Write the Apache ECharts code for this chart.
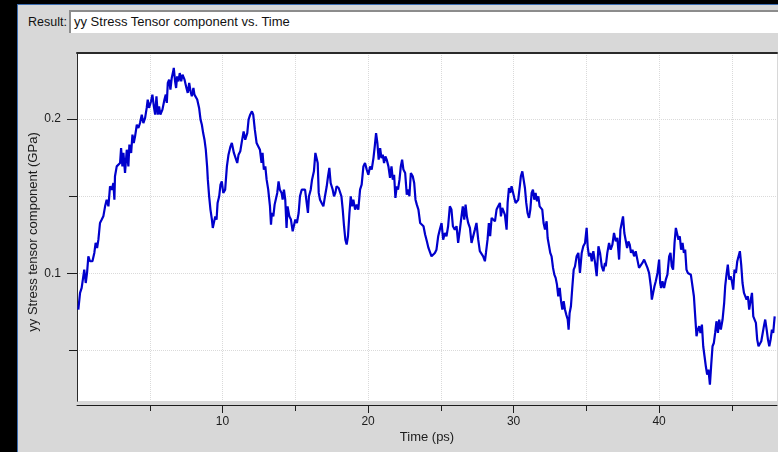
<!DOCTYPE html>
<html>
<head>
<meta charset="utf-8">
<title>yy Stress Tensor component vs. Time</title>
<script src="https://cdn.jsdelivr.net/npm/echarts@6/dist/echarts.min.js"></script>
<style>
  html, body { margin: 0; padding: 0; }
  body {
    position: relative; width: 778px; height: 452px; overflow: hidden;
    background: #d8d8d8; font-family: "Liberation Sans", Arial, sans-serif; color: #111;
  }
  .edge-top { position: absolute; left: 0; top: 0; width: 778px; height: 4px; background: #000; }
  .edge-top-hl { position: absolute; left: 0; top: 4px; width: 778px; height: 1px; background: #3b6cb0; }
  .edge-left { position: absolute; left: 0; top: 0; width: 17px; height: 452px; background: #000; }
  .edge-left-hl { position: absolute; left: 17px; top: 4px; width: 1px; height: 448px; background: #3b6cb0; }
  .result-label { position: absolute; left: 28px; top: 15px; font-size: 12.5px; line-height: 15px; }
  .result-field {
    position: absolute; left: 69px; top: 10px; width: 720px; height: 23px; box-sizing: border-box;
    background: #fff; border-top: 2px solid #8c8c8c; border-left: 2px solid #8c8c8c;
    font-size: 13px; line-height: 20px; padding-left: 3px; white-space: nowrap;
  }
  #chart { position: absolute; left: 0; top: 0; width: 778px; height: 452px; }
</style>
</head>
<body>
<div class="edge-top"></div>
<div class="edge-top-hl"></div>
<div class="edge-left"></div>
<div class="edge-left-hl"></div>
<div class="result-label">Result:</div>
<div class="result-field">yy Stress Tensor component vs. Time</div>
<div id="chart"></div>
<script>
// Time (ps) / yy stress (GPa) samples, one list per stretch of the run
const run0to12 = [
  [0.09,0.0765],[0.21,0.0873],[0.32,0.0905],[0.44,0.0916],[0.50,0.1024],[0.60,0.0937],[0.69,0.1002],[0.78,0.1110],
  [0.89,0.1078],[1.06,0.1078],[1.19,0.1132],[1.28,0.1197],[1.38,0.1164],[1.47,0.1218],[1.58,0.1326],[1.70,0.1348],
  [1.81,0.1369],[1.93,0.1434],[2.04,0.1477],[2.16,0.1434],[2.27,0.1564],[2.39,0.1542],[2.50,0.1585],[2.57,0.1477],
  [2.61,0.1629],[2.73,0.1693],[2.84,0.1704],[2.96,0.1715],[3.03,0.1812],[3.12,0.1693],[3.19,0.1780],[3.30,0.1650],
  [3.42,0.1801],[3.53,0.1693],[3.60,0.1834],[3.72,0.1780],[3.81,0.1899],[3.90,0.1845],[3.99,0.1888],[4.11,0.1963],
  [4.22,0.1942],[4.33,0.1974],[4.45,0.2028],[4.56,0.1974],[4.68,0.2007],[4.79,0.2072],[4.86,0.2126],[4.95,0.2072],
  [5.09,0.2115],[5.18,0.2158],[5.28,0.2082],[5.37,0.2028],[5.46,0.2147],[5.55,0.2028],[5.64,0.2082],[5.73,0.2028],
  [5.87,0.2061],[6.01,0.2126],[6.10,0.2158],[6.17,0.2104],[6.24,0.2234],[6.33,0.2255],[6.42,0.2190],[6.51,0.2266],
  [6.61,0.2309],[6.65,0.2331],[6.74,0.2244],[6.81,0.2201],[6.88,0.2277],[6.97,0.2244],[7.06,0.2298],[7.16,0.2244],
  [7.25,0.2288],[7.39,0.2255],[7.52,0.2201],[7.61,0.2169],[7.71,0.2234],[7.80,0.2180],[7.89,0.2147],[8.00,0.2201],
  [8.07,0.2158],[8.17,0.2147],[8.26,0.2126],[8.39,0.2072],[8.49,0.1996],[8.58,0.1963],[8.67,0.1909],[8.76,0.1866],
  [8.85,0.1801],[8.94,0.1693],[8.99,0.1607],[9.08,0.1499],[9.17,0.1413],[9.27,0.1348],[9.33,0.1294],[9.43,0.1305],
  [9.50,0.1369],[9.59,0.1348],[9.66,0.1456],[9.77,0.1499],[9.86,0.1575],[9.95,0.1596],[10.05,0.1521],[10.18,0.1542],
  [10.30,0.1693],[10.41,0.1769],[10.55,0.1823],[10.64,0.1845],[10.78,0.1780],[10.87,0.1791],[11.01,0.1715],[11.10,0.1769],
  [11.22,0.1791],[11.33,0.1855],[11.45,0.1920],[11.56,0.1866],[11.70,0.1909],[11.79,0.1996],[11.90,0.2028],[12.02,0.2050]
];
const run12to24 = [
  [12.11,0.2028],[12.22,0.1931],[12.34,0.1845],[12.45,0.1855],[12.57,0.1801],[12.68,0.1715],[12.75,0.1780],[12.84,0.1672],
  [12.94,0.1693],[13.03,0.1607],[13.14,0.1542],[13.26,0.1434],[13.33,0.1315],[13.39,0.1391],[13.49,0.1369],[13.58,0.1445],
  [13.67,0.1434],[13.76,0.1521],[13.85,0.1596],[13.94,0.1542],[14.06,0.1521],[14.13,0.1477],[14.22,0.1542],[14.31,0.1477],
  [14.40,0.1294],[14.47,0.1434],[14.59,0.1369],[14.70,0.1348],[14.82,0.1272],[14.91,0.1283],[15.00,0.1348],[15.11,0.1326],
  [15.23,0.1391],[15.32,0.1499],[15.44,0.1542],[15.55,0.1553],[15.67,0.1542],[15.78,0.1553],[15.87,0.1391],[15.94,0.1499],
  [16.06,0.1542],[16.15,0.1607],[16.28,0.1661],[16.38,0.1780],[16.47,0.1791],[16.54,0.1715],[16.61,0.1521],[16.70,0.1477],
  [16.81,0.1456],[16.93,0.1434],[17.04,0.1499],[17.16,0.1564],[17.25,0.1629],[17.34,0.1683],[17.43,0.1585],[17.57,0.1542],
  [17.66,0.1499],[17.75,0.1521],[17.84,0.1564],[17.98,0.1553],[18.07,0.1542],[18.17,0.1499],[18.26,0.1413],[18.35,0.1305],
  [18.44,0.1218],[18.53,0.1186],[18.62,0.1240],[18.72,0.1391],[18.81,0.1499],[18.90,0.1434],[18.99,0.1477],[19.11,0.1413],
  [19.22,0.1445],[19.33,0.1413],[19.45,0.1542],[19.56,0.1575],[19.68,0.1693],[19.79,0.1715],[19.91,0.1672],[20.02,0.1639],
  [20.14,0.1693],[20.25,0.1672],[20.37,0.1747],[20.46,0.1823],[20.55,0.1909],[20.64,0.1845],[20.73,0.1737],[20.83,0.1812],
  [20.92,0.1747],[21.01,0.1769],[21.10,0.1715],[21.19,0.1758],[21.28,0.1737],[21.40,0.1693],[21.51,0.1618],[21.61,0.1693],
  [21.70,0.1607],[21.79,0.1639],[21.88,0.1488],[21.97,0.1564],[22.06,0.1542],[22.16,0.1607],[22.25,0.1693],[22.34,0.1737],
  [22.43,0.1672],[22.55,0.1650],[22.66,0.1510],[22.78,0.1542],[22.84,0.1499],[22.94,0.1650],[23.07,0.1629],[23.17,0.1585],
  [23.26,0.1477],[23.35,0.1445],[23.46,0.1413],[23.58,0.1326],[23.69,0.1337],[23.81,0.1305],[23.92,0.1251],[24.04,0.1207],
  [24.15,0.1164],[24.27,0.1175]
];
const run24to36 = [
  [24.36,0.1110],[24.47,0.1099],[24.59,0.1132],[24.70,0.1153],[24.82,0.1240],[24.93,0.1283],[25.05,0.1326],[25.16,0.1218],
  [25.28,0.1261],[25.39,0.1240],[25.50,0.1305],[25.62,0.1434],[25.73,0.1413],[25.83,0.1305],[25.96,0.1283],[26.08,0.1305],
  [26.19,0.1197],[26.31,0.1283],[26.42,0.1369],[26.51,0.1434],[26.61,0.1348],[26.70,0.1445],[26.79,0.1369],[26.88,0.1326],
  [27.00,0.1294],[27.11,0.1197],[27.22,0.1186],[27.34,0.1283],[27.45,0.1326],[27.57,0.1218],[27.68,0.1143],[27.80,0.1132],
  [27.91,0.1110],[28.03,0.1078],[28.10,0.1132],[28.21,0.1218],[28.30,0.1326],[28.39,0.1240],[28.49,0.1359],[28.60,0.1348],
  [28.72,0.1337],[28.83,0.1413],[28.94,0.1434],[29.06,0.1456],[29.13,0.1369],[29.22,0.1423],[29.31,0.1402],[29.40,0.1380],
  [29.52,0.1283],[29.59,0.1456],[29.68,0.1553],[29.77,0.1521],[29.86,0.1564],[29.95,0.1564],[30.05,0.1488],[30.14,0.1456],
  [30.23,0.1445],[30.32,0.1477],[30.44,0.1575],[30.50,0.1629],[30.60,0.1661],[30.69,0.1650],[30.78,0.1553],[30.87,0.1456],
  [30.96,0.1391],[31.06,0.1359],[31.15,0.1413],[31.24,0.1521],[31.33,0.1542],[31.42,0.1477],[31.51,0.1521],[31.61,0.1467],
  [31.70,0.1499],[31.79,0.1434],[31.88,0.1434],[31.97,0.1413],[32.06,0.1326],[32.16,0.1283],[32.27,0.1337],[32.34,0.1229],
  [32.43,0.1218],[32.52,0.1132],[32.61,0.1110],[32.71,0.1035],[32.80,0.0991],[32.89,0.0970],[32.98,0.0927],[33.07,0.0851],
  [33.17,0.0905],[33.26,0.0819],[33.35,0.0765],[33.44,0.0819],[33.53,0.0765],[33.62,0.0732],[33.72,0.0700],[33.78,0.0635],
  [33.85,0.0743],[33.94,0.0786],[34.04,0.0916],[34.13,0.1024],[34.22,0.1045],[34.33,0.1110],[34.45,0.1132],[34.56,0.1002],
  [34.68,0.1132],[34.79,0.1175],[34.91,0.1197],[35.02,0.1294],[35.09,0.1175],[35.18,0.1110],[35.28,0.1132],[35.37,0.1078],
  [35.48,0.1143],[35.60,0.1067],[35.71,0.0981],[35.83,0.1175],[35.94,0.1132],[36.06,0.1045],[36.17,0.1013],[36.28,0.1067]
];
const run36to48 = [
  [36.33,0.1045],[36.44,0.1132],[36.56,0.1197],[36.67,0.1153],[36.79,0.1186],[36.90,0.1261],[37.02,0.1207],[37.13,0.1229],
  [37.25,0.1089],[37.34,0.1283],[37.43,0.1326],[37.52,0.1369],[37.61,0.1261],[37.71,0.1251],[37.80,0.1164],[37.89,0.1207],
  [37.98,0.1186],[38.07,0.1132],[38.17,0.1153],[38.28,0.1110],[38.39,0.1143],[38.51,0.1132],[38.62,0.1035],[38.74,0.1045],
  [38.85,0.1067],[38.97,0.1089],[39.08,0.1078],[39.20,0.1035],[39.31,0.1002],[39.43,0.0916],[39.50,0.0829],[39.59,0.0873],
  [39.68,0.0916],[39.77,0.0948],[39.89,0.1002],[40.00,0.1089],[40.07,0.0937],[40.14,0.0905],[40.23,0.0948],[40.34,0.0905],
  [40.46,0.0959],[40.57,0.0991],[40.69,0.1110],[40.78,0.1132],[40.87,0.1045],[40.96,0.1024],[41.06,0.1197],[41.15,0.1294],
  [41.24,0.1305],[41.33,0.1218],[41.42,0.1240],[41.51,0.1153],[41.61,0.1197],[41.70,0.1132],[41.79,0.1153],[41.88,0.1024],
  [41.97,0.1002],[42.06,0.1002],[42.18,0.0991],[42.29,0.1002],[42.39,0.0851],[42.48,0.0721],[42.57,0.0592],[42.66,0.0635],
  [42.75,0.0657],[42.84,0.0613],[42.94,0.0667],[43.03,0.0527],[43.12,0.0462],[43.21,0.0397],[43.30,0.0343],[43.39,0.0376],
  [43.49,0.0278],[43.58,0.0408],[43.67,0.0527],[43.76,0.0548],[43.85,0.0613],[43.94,0.0689],[44.04,0.0613],[44.13,0.0700],
  [44.24,0.0635],[44.36,0.0700],[44.47,0.0808],[44.54,0.0916],[44.63,0.0991],[44.72,0.1056],[44.82,0.0959],[44.91,0.0981],
  [45.00,0.0948],[45.09,0.0894],[45.18,0.1024],[45.28,0.1002],[45.37,0.1078],[45.46,0.1089],[45.55,0.1143],[45.64,0.1056],
  [45.73,0.0937],[45.83,0.0873],[45.92,0.0883],[46.01,0.0829],[46.10,0.0851],[46.19,0.0765],[46.28,0.0819],[46.38,0.0873],
  [46.47,0.0721],[46.56,0.0700],[46.65,0.0678],[46.74,0.0570],[46.83,0.0527],[46.93,0.0538],[47.02,0.0559],[47.11,0.0570],
  [47.20,0.0657],[47.29,0.0700],[47.39,0.0635],[47.48,0.0570],[47.57,0.0527],[47.66,0.0570],[47.75,0.0635],[47.84,0.0613],
  [47.94,0.0721]
];

// Axis ranges and tick positions
const timeRange = [0, 48.1];
const stressRange = [0.0172, 0.2428];
const timeMajorTicks = [10, 20, 30, 40];
const timeMinorTicks = [5, 15, 25, 35, 45];
const stressMajorTicks = [0.1, 0.2];
const stressMinorTicks = [0.05, 0.15];

const FONT = '"Liberation Sans", Arial, sans-serif';
const INK = '#1c1c1c';
const GRIDLINE = { color: '#dadada', width: 1, type: 'dotted' };

const series = run0to12.concat(run12to24, run24to36, run36to48);

function plainAxis(dim, extra) {
  const range = dim === 'x' ? timeRange : stressRange;
  return Object.assign({
    type: 'value', min: range[0], max: range[1], scale: true,
    axisLine: { show: false }, axisTick: { show: false },
    axisLabel: { show: false }, splitLine: { show: false }
  }, extra);
}

const chart = echarts.init(document.getElementById('chart'), null, { renderer: 'canvas' });
chart.setOption({
  animation: false,
  backgroundColor: 'transparent',
  grid: {
    left: 77, right: 1, top: 53, bottom: 51,
    show: true, backgroundColor: '#ffffff', borderWidth: 0,
    containLabel: false, outerBoundsMode: 'none'
  },
  xAxis: [
    plainAxis('x', {
      position: 'bottom', offset: 4,
      name: 'Time (ps)', nameLocation: 'middle', nameGap: 26, nameMoveOverlap: false,
      nameTextStyle: { fontFamily: FONT, fontSize: 13, color: INK },
      axisLine: { show: true, lineStyle: { color: INK, width: 1 } },
      axisTick: { show: true, inside: false, length: 8, customValues: timeMajorTicks, lineStyle: { color: INK } },
      axisLabel: { show: true, customValues: timeMajorTicks, margin: 11, fontFamily: FONT, fontSize: 12, color: INK },
      splitLine: { show: true, lineStyle: GRIDLINE }
    }),
    plainAxis('x', {
      position: 'bottom', offset: 4,
      axisTick: { show: true, inside: false, length: 6, customValues: timeMinorTicks, lineStyle: { color: INK } },
      splitLine: { show: true, lineStyle: GRIDLINE }
    }),
    plainAxis('x', {
      position: 'top', offset: 0,
      axisLine: { show: true, lineStyle: { color: '#2a2a2a', width: 2 } }
    })
  ],
  yAxis: [
    plainAxis('y', {
      position: 'left', offset: 2,
      name: 'yy Stress tensor component (GPa)', nameLocation: 'middle', nameGap: 35, nameMoveOverlap: false,
      nameTextStyle: { fontFamily: FONT, fontSize: 13, color: INK, padding: [0, 10, 0, 0] },
      axisLine: { show: true, lineStyle: { color: INK, width: 1 } },
      axisTick: { show: true, inside: false, length: 10, customValues: stressMajorTicks, lineStyle: { color: INK } },
      axisLabel: { show: true, customValues: stressMajorTicks, margin: 14, fontFamily: FONT, fontSize: 12, color: INK },
      splitLine: { show: true, lineStyle: GRIDLINE }
    }),
    plainAxis('y', {
      position: 'left', offset: 2,
      axisTick: { show: true, inside: false, length: 8, customValues: stressMinorTicks, lineStyle: { color: INK } },
      splitLine: { show: true, lineStyle: GRIDLINE }
    }),
    plainAxis('y', {
      position: 'left', offset: 0,
      axisLine: { show: true, lineStyle: { color: '#2a2a2a', width: 1 } }
    })
  ],
  series: [{
    type: 'line',
    xAxisIndex: 0, yAxisIndex: 0,
    data: series,
    showSymbol: false, symbol: 'none',
    smooth: false,
    lineStyle: { color: '#0000cc', width: 2.2 },
    emphasis: { disabled: true }
  }]
});
</script>
</body>
</html>
